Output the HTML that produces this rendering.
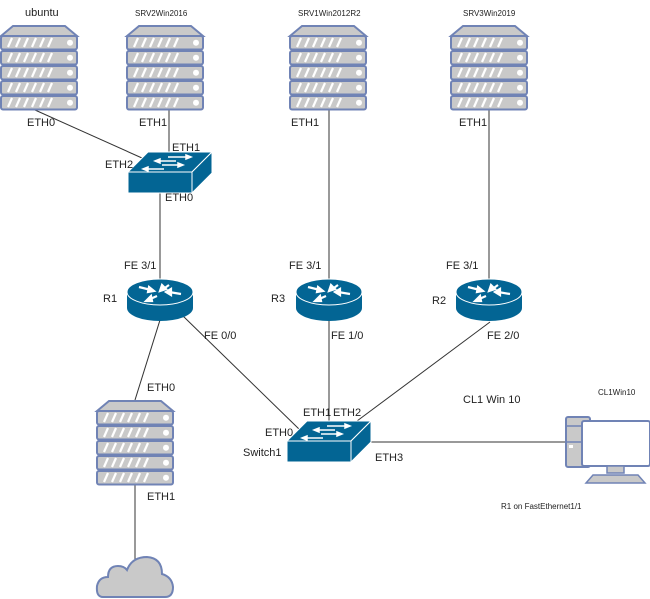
<!DOCTYPE html>
<html><head><meta charset="utf-8"><style>
html,body{margin:0;padding:0;background:#fff;}
svg{display:block;font-family:"Liberation Sans",sans-serif;}
</style></head><body>
<svg width="650" height="599" viewBox="0 0 650 599" xmlns="http://www.w3.org/2000/svg">
<defs>
<g id="srv">
<path d="M1,11 L13,1 L65,1 L77,11 Z" fill="#c9c9c9" stroke="#7083b5" stroke-width="2"/>
<g stroke="#7083b5" stroke-width="2" fill="#c9c9c9">
<rect x="1" y="11" width="76" height="13.5" rx="2"/>
<rect x="1" y="26" width="76" height="13.5" rx="2"/>
<rect x="1" y="41" width="76" height="13.5" rx="2"/>
<rect x="1" y="56" width="76" height="13.5" rx="2"/>
<rect x="1" y="71" width="76" height="13.5" rx="2"/>
</g>
<g stroke="#fff" stroke-width="2.2">
<path id="st" d="M8,22 L12,13 M16,22 L20,13 M24,22 L28,13 M32,22 L36,13 M40,22 L44,13 M48,22 L52,13"/>
<use href="#st" y="15"/><use href="#st" y="30"/><use href="#st" y="45"/><use href="#st" y="60"/>
</g>
<g fill="#fff"><circle cx="70" cy="17.7" r="3"/><circle cx="70" cy="32.7" r="3"/><circle cx="70" cy="47.7" r="3"/><circle cx="70" cy="62.7" r="3"/><circle cx="70" cy="77.7" r="3"/></g>
</g>
<g id="rtr">
<path d="M0,13 L0,29 A33,13 0 0 0 66,29 L66,13 Z" fill="#036594"/>
<ellipse cx="33" cy="13" rx="33" ry="13" fill="#036594" stroke="#fff" stroke-width="1"/>
<g stroke="#fff" stroke-width="2.2" fill="#fff">
<path d="M12,8 L24,11"/><path d="M27,12 L22,8 L21,13 Z"/>
<path d="M30,17 L21,21"/><path d="M19,22 L24,17 L25,22 Z"/>
<path d="M42,6 L35,11"/><path d="M33,12 L35,6 L39,10 Z"/>
<path d="M54,15 L42,13"/><path d="M39,13 L44,10 L44,16 Z"/>
</g>
</g>
<g id="sw">
<path d="M0,20 L20,0 L84,0 L64,20 Z" fill="#036594" stroke="#fff" stroke-width="1"/>
<rect x="0" y="20" width="64" height="21" fill="#036594" stroke="#fff" stroke-width="1"/>
<path d="M64,20 L84,0 L84,21 L64,41 Z" fill="#036594" stroke="#fff" stroke-width="1"/>
<g stroke="#fff" stroke-width="1.5" fill="#fff"><path d="M40,5 L60,5"/><path d="M63,5 L58,3 L58,7Z"/>
<path d="M30,9 L48,9"/><path d="M27,9 L32,7 L32,11Z"/>
<path d="M34,13 L52,13"/><path d="M55,13 L50,11 L50,15Z"/>
<path d="M18,17 L36,17"/><path d="M15,17 L20,15 L20,19Z"/></g>
</g>
</defs>

<g stroke="#333" stroke-width="1" fill="none">
<line x1="35" y1="110" x2="142" y2="158"/>
<line x1="169" y1="110" x2="169" y2="152"/>
<line x1="160" y1="193" x2="160" y2="280"/>
<line x1="160" y1="320" x2="135" y2="400"/>
<line x1="183" y1="316" x2="300" y2="430"/>
<line x1="329" y1="110" x2="329" y2="280"/>
<line x1="329" y1="320" x2="329" y2="422"/>
<line x1="489" y1="110" x2="489" y2="280"/>
<line x1="490" y1="322" x2="357" y2="421"/>
<line x1="371" y1="442" x2="566" y2="442"/>
<line x1="135" y1="485" x2="135" y2="560"/>
</g>

<use href="#srv" x="0" y="25"/>
<use href="#srv" x="126" y="25"/>
<use href="#srv" x="289" y="25"/>
<use href="#srv" x="450" y="25"/>
<use href="#srv" x="96" y="400"/>

<use href="#sw" x="128" y="152"/>
<use href="#sw" x="287" y="421"/>

<use href="#rtr" x="127" y="279"/>
<use href="#rtr" x="296" y="279"/>
<use href="#rtr" x="456" y="279"/>

<rect x="566" y="417" width="24" height="50" rx="2" fill="#c9c9c9" stroke="#7083b5" stroke-width="2"/>
<line x1="567" y1="426" x2="589" y2="426" stroke="#7083b5" stroke-width="1.5"/>
<line x1="567" y1="442" x2="589" y2="442" stroke="#7083b5" stroke-width="1.5"/>
<rect x="569" y="445" width="4" height="3" fill="#fff"/>
<rect x="582" y="421" width="68" height="45" rx="2" fill="#fff" stroke="#7083b5" stroke-width="2"/>
<rect x="607" y="466" width="17" height="7" fill="#c9c9c9" stroke="#7083b5" stroke-width="1.5"/>
<path d="M593,475 L638,475 L645,483 L586,483 Z" fill="#c9c9c9" stroke="#7083b5" stroke-width="1.5"/>

<path d="M103,597 Q96,597 97,586 Q99,577 108,577 Q108,566 118,566 Q124,566 127,570 Q132,557 147,557 Q162,558 162,574 Q172,577 173,587 Q173,597 165,597 Z" fill="#c9c9c9" stroke="#7083b5" stroke-width="2"/>

<g fill="#222" font-size="11">
<text x="25" y="16">ubuntu</text>
<text x="27" y="126">ETH0</text>
<text x="139" y="126">ETH1</text>
<text x="172" y="151">ETH1</text>
<text x="105" y="168">ETH2</text>
<text x="165" y="201">ETH0</text>
<text x="291" y="126">ETH1</text>
<text x="459" y="126">ETH1</text>
<text x="124" y="269">FE 3/1</text>
<text x="289" y="269">FE 3/1</text>
<text x="446" y="269">FE 3/1</text>
<text x="103" y="302">R1</text>
<text x="271" y="302">R3</text>
<text x="432" y="304">R2</text>
<text x="204" y="339">FE 0/0</text>
<text x="331" y="339">FE 1/0</text>
<text x="487" y="339">FE 2/0</text>
<text x="147" y="391">ETH0</text>
<text x="303" y="416">ETH1</text>
<text x="333" y="416">ETH2</text>
<text x="265" y="436">ETH0</text>
<text x="243" y="456">Switch1</text>
<text x="375" y="461">ETH3</text>
<text x="463" y="403">CL1 Win 10</text>
<text x="147" y="500">ETH1</text>
</g>
<g fill="#222" font-size="8">
<text x="135" y="16">SRV2Win2016</text>
<text x="298" y="16">SRV1Win2012R2</text>
<text x="463" y="16">SRV3Win2019</text>
<text x="598" y="395">CL1Win10</text>
<text x="501" y="509">R1 on FastEthernet1/1</text>
</g>
</svg>
</body></html>
